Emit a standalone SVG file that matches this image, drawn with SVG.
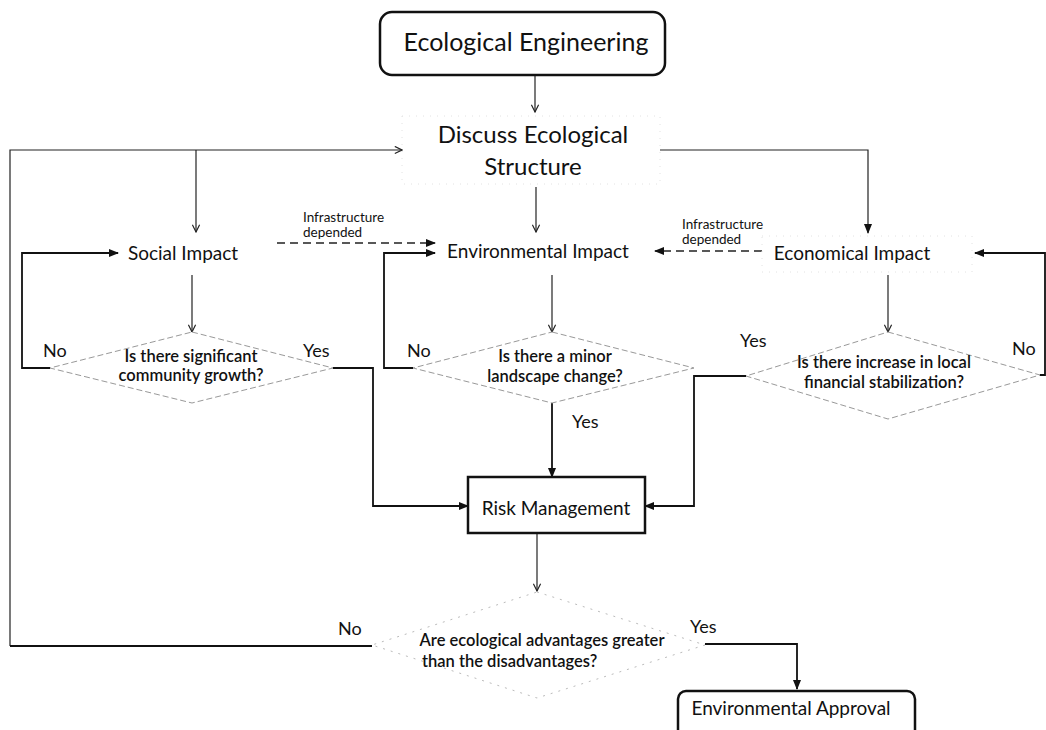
<svg xmlns="http://www.w3.org/2000/svg" width="1046" height="730" viewBox="0 0 1046 730">
  <defs>
    <marker id="open" viewBox="0 0 10 10" refX="9" refY="5" markerWidth="9" markerHeight="9" markerUnits="userSpaceOnUse" orient="auto">
      <path d="M1,1 L9,5 L1,9" fill="none" stroke="#222" stroke-width="1.3"/>
    </marker>
    <marker id="solid" viewBox="0 0 10 10" refX="9" refY="5" markerWidth="10" markerHeight="10" markerUnits="userSpaceOnUse" orient="auto">
      <path d="M0,1 L10,5 L0,9 Z" fill="#111"/>
    </marker>
    <style>
      text { font-family: Lato, "Open Sans", "Liberation Sans", sans-serif; fill: #111; }
      .title { font-size: 25px; }
      .head { font-size: 24px; }
      .node { font-size: 19px; }
      .q { font-size: 16.5px; font-weight: 600; }
      .lbl { font-size: 18px; }
      .small { font-size: 13.5px; }
      .thin { fill: none; stroke: #222; stroke-width: 1.2; }
      .thick { fill: none; stroke: #111; stroke-width: 1.8; }
      .dash { fill: none; stroke: #222; stroke-width: 1.4; stroke-dasharray: 8 5; }
      .diamond { fill: #fff; stroke: #999; stroke-width: 1; stroke-dasharray: 6 3; }
      .faint { fill: #fff; stroke: #bbb; stroke-width: 1; stroke-dasharray: 2 6; }
      .ghost { fill: none; stroke: #e2e2e2; stroke-width: 1; stroke-dasharray: 1 6; }
      .box { fill: #fff; stroke: #111; stroke-width: 2.5; }
    </style>
  </defs>

  <rect width="1046" height="730" fill="#fff"/>

  <!-- connectors -->
  <g id="connectors">
    <!-- main flow from the top -->
    <line class="thin" x1="535" y1="76" x2="535" y2="112" marker-end="url(#open)"/>
    <polyline class="thin" points="10,646 10,150 402,150" marker-end="url(#open)"/>
    <line class="thin" x1="196" y1="150" x2="196" y2="232" marker-end="url(#open)"/>
    <line class="thin" x1="536" y1="187" x2="536" y2="232" marker-end="url(#open)"/>
    <polyline class="thin" points="660,150 868,150 868,233" marker-end="url(#solid)"/>

    <!-- impact to question -->
    <line class="thin" x1="192" y1="275" x2="192" y2="332" marker-end="url(#open)"/>
    <line class="thin" x1="552" y1="275" x2="552" y2="332" marker-end="url(#open)"/>
    <line class="thin" x1="888" y1="275" x2="888" y2="332" marker-end="url(#open)"/>

    <!-- infrastructure dependencies -->
    <line class="dash" x1="277" y1="243" x2="435" y2="243" marker-end="url(#solid)"/>
    <line class="dash" x1="762" y1="251" x2="655" y2="251" marker-end="url(#solid)"/>

    <!-- "No" loops -->
    <polyline class="thick" points="50,368 22,368 22,253 118,253" marker-end="url(#solid)"/>
    <polyline class="thick" points="413,368 384,368 384,253 435,253" marker-end="url(#solid)"/>
    <polyline class="thick" points="1040,375 1045,375 1045,253 975,253" marker-end="url(#solid)"/>

    <!-- "Yes" to risk management -->
    <polyline class="thick" points="333,368 373,368 373,506 468,506" marker-end="url(#solid)"/>
    <line class="thick" x1="552" y1="403" x2="552" y2="477" marker-end="url(#solid)"/>
    <polyline class="thick" points="746,376 694,376 694,506 645,506" marker-end="url(#solid)"/>

    <!-- final decision -->
    <line class="thin" x1="537" y1="533" x2="537" y2="591" marker-end="url(#open)"/>
    <line class="thick" x1="372" y1="646" x2="10" y2="646"/>
    <polyline class="thick" points="705,644 797,644 797,689" marker-end="url(#solid)"/>
  </g>

  <!-- labels on connectors -->
  <g id="edge-labels">
    <text class="small" x="303" y="222">Infrastructure</text>
    <text class="small" x="303" y="237">depended</text>
    <text class="small" x="682" y="229">Infrastructure</text>
    <text class="small" x="682" y="244">depended</text>
    <text class="lbl" x="43" y="357">No</text>
    <text class="lbl" x="303" y="357">Yes</text>
    <text class="lbl" x="407" y="357">No</text>
    <text class="lbl" x="572" y="428">Yes</text>
    <text class="lbl" x="740" y="347">Yes</text>
    <text class="lbl" x="1012" y="355">No</text>
    <text class="lbl" x="338" y="635">No</text>
    <text class="lbl" x="690" y="633">Yes</text>
  </g>

  <g id="ecological-engineering">
    <rect class="box" x="380" y="12" width="285" height="63" rx="12"/>
    <text class="title" x="526" y="51" text-anchor="middle">Ecological Engineering</text>
  </g>

  <g id="discuss-structure">
    <rect class="ghost" x="402" y="116" width="258" height="68"/>
    <text class="head" x="533" y="143" text-anchor="middle">Discuss Ecological</text>
    <text class="head" x="533" y="175" text-anchor="middle">Structure</text>
  </g>

  <g id="social-impact">
    <text class="node" x="183" y="260" text-anchor="middle">Social Impact</text>
  </g>

  <g id="environmental-impact">
    <text class="node" x="538" y="258" text-anchor="middle">Environmental Impact</text>
  </g>

  <g id="economical-impact">
    <rect class="ghost" x="762" y="236" width="210" height="36"/>
    <text class="node" x="852" y="260" text-anchor="middle">Economical Impact</text>
  </g>

  <g id="q-community">
    <polygon class="diamond" points="192,332 333,368 192,403 50,368"/>
    <text class="q" x="191" y="362" text-anchor="middle">Is there significant</text>
    <text class="q" x="191" y="381" text-anchor="middle">community growth?</text>
  </g>

  <g id="q-landscape">
    <polygon class="diamond" points="552,332 694,368 552,403 413,368"/>
    <text class="q" x="555" y="362" text-anchor="middle">Is there a minor</text>
    <text class="q" x="555" y="382" text-anchor="middle">landscape change?</text>
  </g>

  <g id="q-financial">
    <polygon class="diamond" points="888,332 1040,375 888,419 746,376"/>
    <text class="q" x="884" y="368" text-anchor="middle">Is there increase in local</text>
    <text class="q" x="884" y="388" text-anchor="middle">financial stabilization?</text>
  </g>

  <g id="risk-management">
    <rect class="box" x="468" y="477" width="177" height="56"/>
    <text class="node" x="556" y="515" text-anchor="middle">Risk Management</text>
  </g>

  <g id="q-advantages">
    <polygon class="faint" points="537,592 705,645 537,698 372,645"/>
    <text class="q" x="542" y="646" text-anchor="middle">Are ecological advantages greater</text>
    <text class="q" x="422" y="667">than the disadvantages?</text>
  </g>

  <g id="environmental-approval">
    <rect class="box" x="678" y="691" width="237" height="48" rx="8"/>
    <text class="node" x="791" y="715" text-anchor="middle">Environmental Approval</text>
  </g>
</svg>
